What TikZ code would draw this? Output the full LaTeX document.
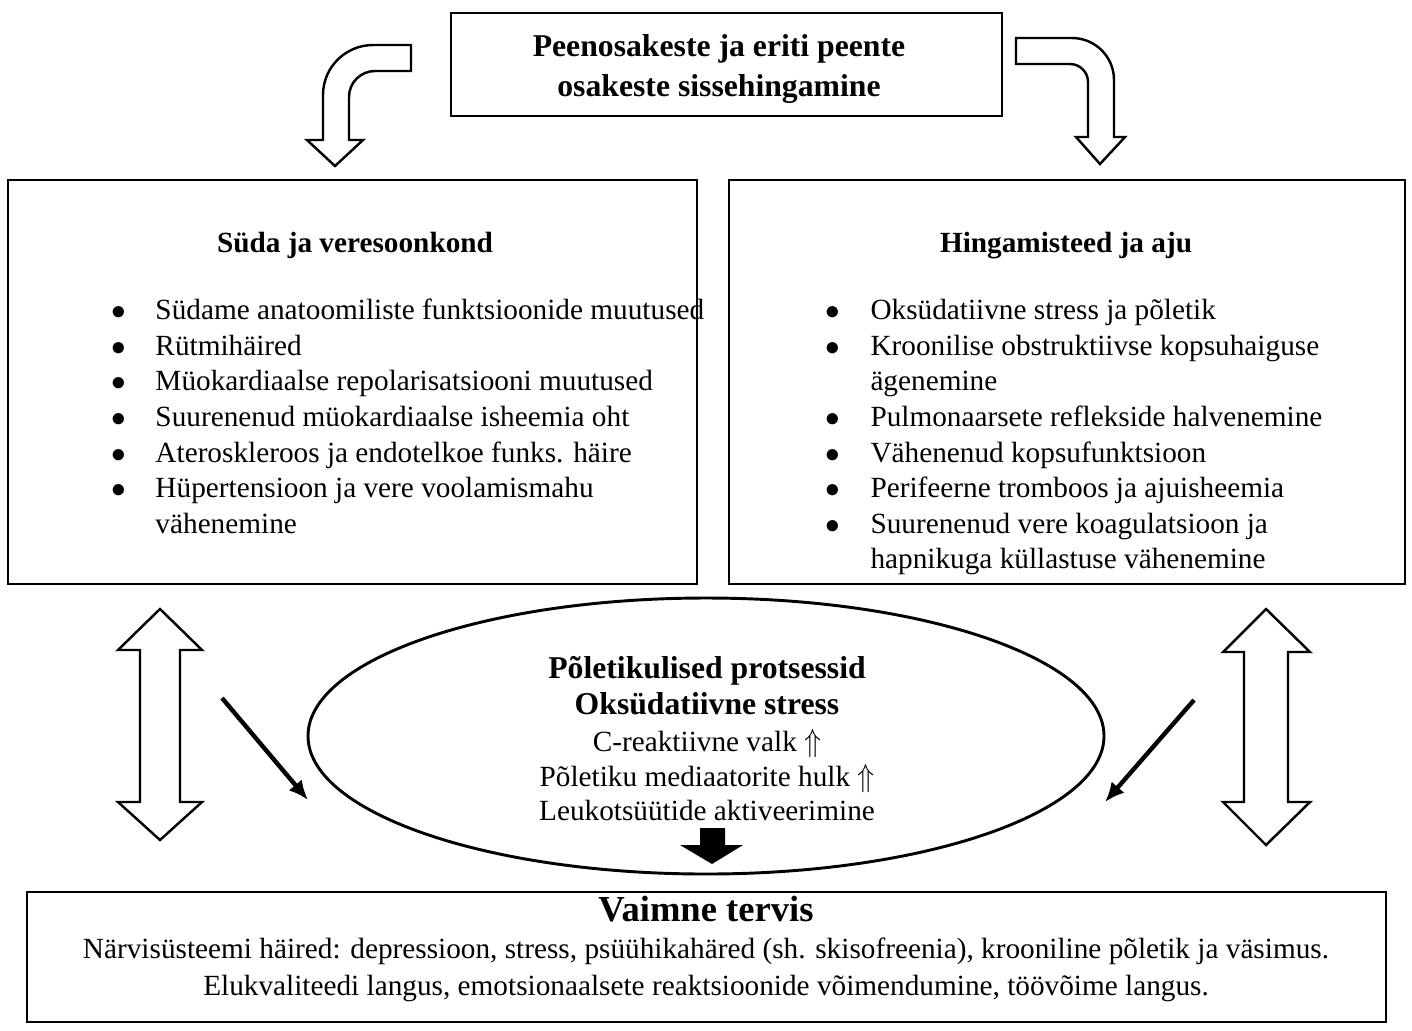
\documentclass[tikz,border=0pt]{standalone}
\usepackage{fontspec}
\setmainfont{Liberation Serif}
\usetikzlibrary{shapes.geometric,arrows.meta}
\newlength\px \setlength\px{0.41pt}
\newcommand\upup{\scalebox{0.95}[1.1]{$\Uparrow$}}

\tikzset{
  box/.style={draw, line width=1.2pt, inner sep=0pt},
  hd/.style={font=\fontsize{13}{16}\selectfont\bfseries, inner sep=0pt, anchor=base},
  big/.style={font=\fontsize{15}{18}\selectfont\bfseries, inner sep=0pt, anchor=base},
  sub/.style={font=\fontsize{12}{14}\selectfont\bfseries, inner sep=0pt, anchor=base},
  txt/.style={font=\fontsize{12}{14}\selectfont, inner sep=0pt, anchor=base},
  lst/.style={txt, anchor=base west},
  hollow/.style={draw, fill=white, line width=1pt, line join=miter},
  pointer/.style={-{Latex[length=8pt,width=7pt]}, line width=1.8pt}
}

\begin{document}
\begin{tikzpicture}[x=0.41pt, y=-0.41pt]
	\useasboundingbox (0,0) rectangle (1412,1030);

	% boxes
	\node[box, minimum width=551\px, minimum height=103\px] (inhal) at (726.5,64.5) {};
	\node[box, minimum width=689\px, minimum height=404\px] (heart) at (352.5,382) {};
	\node[box, minimum width=676\px, minimum height=404\px] (lungs) at (1067,382) {};
	\node[box, minimum width=1359\px, minimum height=130\px] (mind) at (706.5,957) {};
	\node[draw, ellipse, line width=1.2pt, minimum width=796\px, minimum height=276\px] (infl) at (706,736) {};

	% top box
	\node[hd] (inhal1) at (719,56) {Peenosakeste ja eriti peente};
	\node[hd] (inhal2) at (719,96) {osakeste sissehingamine};

	% left box
	\node[sub] (heartT) at (355,252) {Süda ja veresoonkond};
	\foreach \y [count=\i] in {319,355,390,426,462,497}
		\node[txt] (hb\i) at (119,\y) {$\bullet$};
	\foreach \y/\t [count=\i] in {319/Südame anatoomiliste funktsioonide muutused,
			355/Rütmihäired,
			390/Müokardiaalse repolarisatsiooni muutused,
			426/Suurenenud müokardiaalse isheemia oht,
			462/Ateroskleroos ja endotelkoe funks. häire,
			497/Hüpertensioon ja vere voolamismahu,
			533/vähenemine}
		\node[lst] (h\i) at (155,\y) {\t};

	% right box
	\node[sub] (lungsT) at (1066,252) {Hingamisteed ja aju};
	\foreach \y [count=\i] in {319,355,426,462,497,533}
		\node[txt] (lb\i) at (833,\y) {$\bullet$};
	\foreach \y/\t [count=\i] in {319/Oksüdatiivne stress ja põletik,
			355/Kroonilise obstruktiivse kopsuhaiguse,
			390/ägenemine,
			426/Pulmonaarsete reflekside halvenemine,
			462/Vähenenud kopsufunktsioon,
			497/Perifeerne tromboos ja ajuisheemia,
			533/Suurenenud vere koagulatsioon ja,
			568/hapnikuga küllastuse vähenemine}
		\node[lst] (l\i) at (870,\y) {\t};

	% ellipse
	\node[hd] (infl1) at (707,678) {Põletikulised protsessid};
	\node[hd] (infl2) at (707,714) {Oksüdatiivne stress};
	\node[txt] (infl3) at (707,751) {C-reaktiivne valk \upup};
	\node[txt] (infl4) at (707,786) {Põletiku mediaatorite hulk \upup};
	\node[txt] (infl5) at (707,820) {Leukotsüütide aktiveerimine};

	% bottom box
	\node[big] (mind1) at (706,921) {Vaimne tervis};
	\node[txt] (mind2) at (706,958) {Närvisüsteemi häired: depressioon, stress, psüühikahäred (sh. skisofreenia), krooniline põletik ja väsimus.};
	\node[txt] (mind3) at (706,995) {Elukvaliteedi langus, emotsionaalsete reaktsioonide võimendumine, töövõime langus.};

	% curved arrows
	\draw[hollow] (411,45) -- (373,45) .. controls (345.4,45) and (323,67.4) .. (323,95) -- (323,140) -- (307,140) -- (335,166)
		-- (363,140) -- (349,140) -- (349,97) .. controls (349,82.6) and (360.6,71) .. (375,71) -- (411,71) -- cycle;
	\draw[hollow] (1016,38) -- (1072,38) .. controls (1095.2,38) and (1114,56.8) .. (1114,80) -- (1114,137) -- (1125,137) -- (1100,164)
		-- (1076,137) -- (1088,137) -- (1088,82) .. controls (1088,72.1) and (1079.9,64) .. (1070,64) -- (1016,64) -- cycle;

	% double arrows
	\draw[hollow] (160,609) -- (202,650) -- (180,650) -- (180,802) -- (202,802) -- (160,840)
		-- (118,802) -- (140,802) -- (140,650) -- (118,650) -- cycle;
	\draw[hollow] (1266,609) -- (1310,652) -- (1288,652) -- (1288,802) -- (1310,802) -- (1266,845)
		-- (1223,802) -- (1244,802) -- (1244,652) -- (1223,652) -- cycle;

	% pointers to the ellipse
	\coordinate (la) at (222,698);
	\coordinate (lz) at (308,800);
	\coordinate (ra) at (1194,700);
	\coordinate (rz) at (1105,802);
	\draw[pointer] (la) -- (lz);
	\draw[pointer] (ra) -- (rz);

	% black arrow
	\fill (700,828) -- (725,828) -- (725,845) -- (743,845) -- (712,864) -- (680,845) -- (700,845) -- cycle;
\end{tikzpicture}
\end{document}
